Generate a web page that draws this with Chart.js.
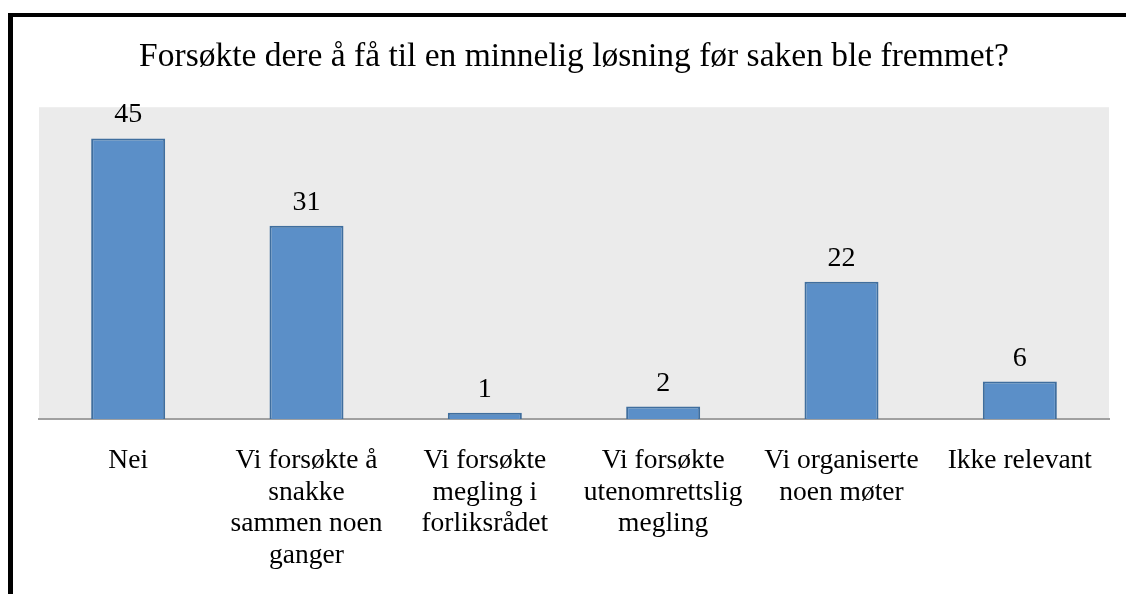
<!DOCTYPE html>
<html>
<head>
<meta charset="utf-8">
<script src="https://cdn.jsdelivr.net/npm/chart.js@4.4.0/dist/chart.umd.min.js"></script>
<style>
  html, body { margin: 0; padding: 0; background: #ffffff; overflow: hidden; }
  #wrap { position: relative; width: 1126px; height: 594px; }
  #frame { position: absolute; left: 8px; top: 13px; width: 1200px; height: 700px;
           border-left: 5px solid #000; border-top: 4px solid #000; box-sizing: border-box; pointer-events: none; }
  canvas { position: absolute; left: 0; top: 0; }
</style>
</head>
<body>
<div id="wrap">
  <canvas id="c" width="1126" height="594"></canvas>
  <div id="frame"></div>
</div>
<script>
const titleText = "Forsøkte dere å få til en minnelig løsning før saken ble fremmet?";
const categories = [
  "Nei",
  ["Vi forsøkte å", "snakke", "sammen noen", "ganger"],
  ["Vi forsøkte", "megling i", "forliksrådet"],
  ["Vi forsøkte", "utenomrettslig", "megling"],
  ["Vi organiserte", "noen møter"],
  "Ikke relevant"
];
const values = [45, 31, 1, 2, 22, 6];
const yMin = 0;
const yMax = 50;

const FONT = "'Liberation Serif', 'Times New Roman', serif";

const plotBg = {
  id: 'plotBg',
  beforeDraw(chart) {
    const a = chart.chartArea, ctx = chart.ctx;
    ctx.save();
    ctx.fillStyle = '#ebebeb';
    ctx.fillRect(a.left, a.top, a.right - a.left, a.bottom - a.top);
    ctx.restore();
  }
};

const valueLabels = {
  id: 'valueLabels',
  afterDatasetsDraw(chart) {
    const ctx = chart.ctx;
    const meta = chart.getDatasetMeta(0);
    ctx.save();
    ctx.font = "28px " + FONT;
    ctx.fillStyle = '#000';
    ctx.textAlign = 'center';
    ctx.textBaseline = 'alphabetic';
    meta.data.forEach((bar, i) => {
      ctx.fillText(String(values[i]), bar.x, bar.y - 16);
    });
    ctx.restore();
  }
};

new Chart(document.getElementById('c'), {
  type: 'bar',
  data: {
    labels: categories,
    datasets: [{
      data: values,
      backgroundColor: '#5b8fc8',
      borderColor: '#3f6e9e',
      borderWidth: 2,
      categoryPercentage: 1.0,
      barPercentage: 0.415
    }]
  },
  options: {
    responsive: false,
    devicePixelRatio: 1,
    animation: false,
    layout: { padding: { left: 39, right: 17, top: 0, bottom: 0 } },
    plugins: {
      legend: { display: false },
      tooltip: { enabled: false },
      title: {
        display: true,
        text: titleText,
        color: '#000',
        font: { family: FONT, size: 33.5, weight: 'normal', lineHeight: 1.2 },
        padding: { top: 37, bottom: 30 }
      }
    },
    scales: {
      x: {
        grid: { display: false, drawTicks: false },
        border: { display: true, color: '#a0a0a0', width: 2 },
        ticks: {
          color: '#000',
          font: { family: FONT, size: 27.5, lineHeight: 1.15 },
          padding: 26,
          maxRotation: 0,
          minRotation: 0,
          autoSkip: false
        },
        afterFit(scale) { scale.height = 175; }
      },
      y: {
        display: false,
        min: yMin,
        max: yMax
      }
    }
  },
  plugins: [plotBg, valueLabels]
});
</script>
</body>
</html>
